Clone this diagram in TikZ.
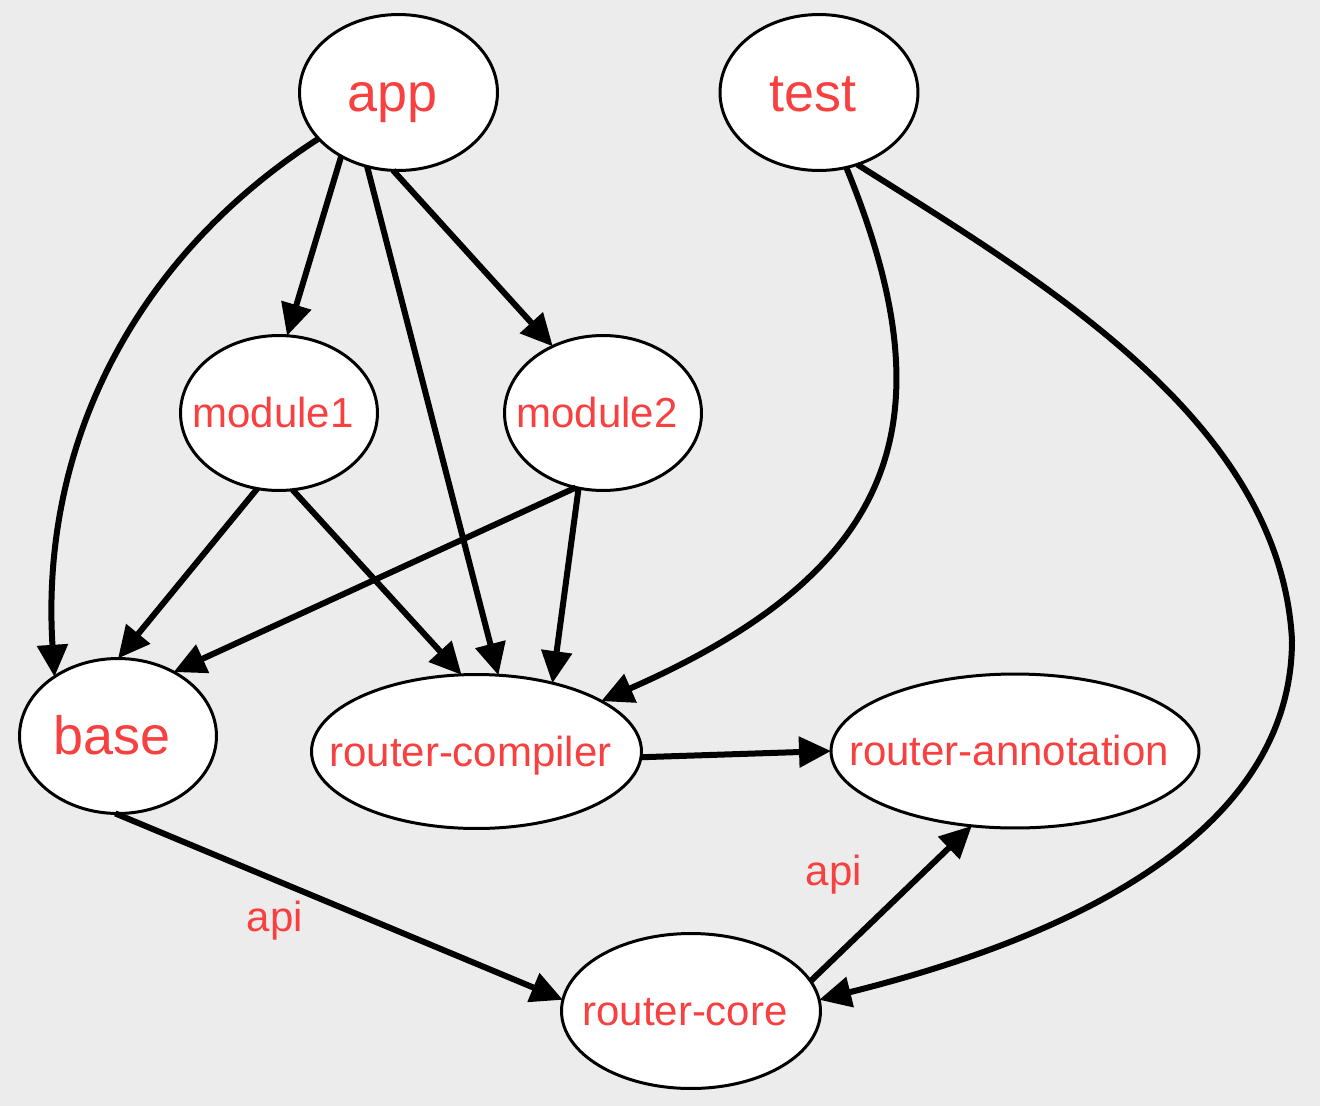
\documentclass[tikz,border=0pt]{standalone}
\usepackage{fontspec}
\setmainfont{Liberation Sans}
\usetikzlibrary{shapes.geometric,arrows.meta}
\definecolor{bgc}{RGB}{236,236,236}
\definecolor{txt}{RGB}{248,64,64}
\newcommand{\nlab}[1]{\makebox[0pt]{\hspace*{-0.24cm}#1}}
\begin{document}
\begin{tikzpicture}[x=0.02cm,y=-0.02cm,
  nd/.style={ellipse, draw=black, line width=0.06cm, fill=white, inner sep=0pt, outer sep=0pt, text=txt},
  bigtxt/.style={nd, font=\fontsize{30.7pt}{36pt}\selectfont, text height=26pt, text depth=4.6pt},
  smalltxt/.style={nd, font=\fontsize{23.9pt}{28pt}\selectfont, text height=20.3pt, text depth=3.6pt},
  lbl/.style={text=txt, inner sep=0pt, font=\fontsize{23.9pt}{28pt}\selectfont},
  edge/.style={draw=black, line width=0.12cm, -{Triangle[length=0.64cm,width=0.6cm]}}
]
\fill[bgc] (0,0) rectangle (1320,1106);
\useasboundingbox (0,0) rectangle (1320,1106);

% nodes
\node[bigtxt, minimum width=3.96cm, minimum height=3.12cm] (app) at (398.5,92.5) {\nlab{app}};
\node[bigtxt, minimum width=3.96cm, minimum height=3.12cm] (test) at (819,92.5) {\nlab{test}};
\node[smalltxt, minimum width=3.94cm, minimum height=3.1cm] (m1) at (279,413) {\nlab{module1}};
\node[smalltxt, minimum width=3.94cm, minimum height=3.1cm] (m2) at (603,413) {\nlab{module2}};
\node[bigtxt, minimum width=3.94cm, minimum height=3.1cm] (base) at (118,736) {\nlab{base}};
\node[smalltxt, minimum width=6.6cm, minimum height=3.08cm] (rc) at (476.5,751.5) {\nlab{router-compiler}};
\node[smalltxt, minimum width=7.36cm, minimum height=3.08cm] (ra) at (1015,751) {\nlab{router-annotation}};
\node[smalltxt, minimum width=5.18cm, minimum height=3.1cm] (core) at (691,1011) {\nlab{router-core}};

% edge labels
\node[lbl, anchor=base] (api1) at (275,931) {api};
\node[lbl, anchor=base] (api2) at (834,885) {api};

% edges
\draw[edge] (app.-150) .. controls (130,260) and (40,450) .. (base.137);
\draw[edge] (app.-132) -- (m1.84);
\draw[edge] (app.-113) -- (rc.74);
\draw[edge] (app.-94) -- (m2.127);
\coordinate (tbend) at (1292,640);
\draw[edge] (test.-70) .. controls (950,420) and (900,570) .. (rc.22);
\draw[edge] (test.-62) .. controls (1040,280) and (1280,420) .. (tbend) .. controls (1292,820) and (1100,930) .. (core.5);
\draw[edge] (m1.-106) -- (base.90);
\draw[edge] (m1.-80) -- (rc.101);
\draw[edge] (m2.-110) -- (base.49);
\draw[edge] (m2.-108) -- (rc.42);
\draw[edge] (rc.-2) -- (ra.180);
\draw[edge] (base.-92) -- (core.175);
\draw[edge] (core.14) -- (ra.-120);
\end{tikzpicture}
\end{document}
